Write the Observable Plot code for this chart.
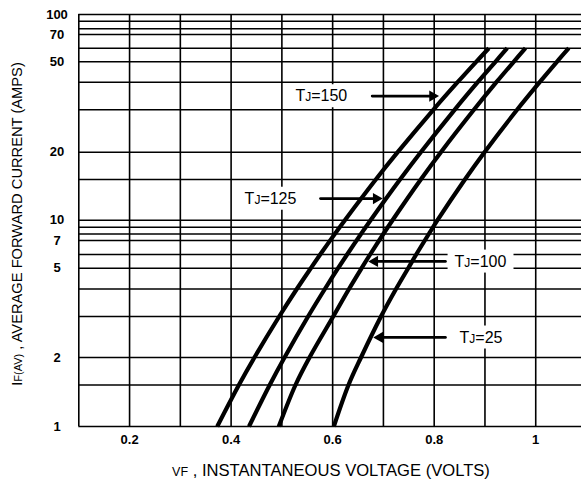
<!DOCTYPE html>
<html>
<head>
<meta charset="utf-8">
<script src="https://cdn.jsdelivr.net/npm/d3@7"></script>
<script src="https://cdn.jsdelivr.net/npm/@observablehq/plot@0.6"></script>
<style>
  html, body { margin: 0; padding: 0; background: white; overflow: hidden; }
</style>
</head>
<body>
<div id="chart"></div>
<script>
// ---- data ----
const voltTicks = [0.2, 0.4, 0.6, 0.8, 1];
const ampTicks = [1, 2, 5, 7, 10, 20, 50, 70, 100];
const voltGrid = [0.1, 0.2, 0.3, 0.4, 0.5, 0.6, 0.7, 0.8, 0.9, 1.0, 1.1];
const ampGrid = [1, 1.5, 2, 3, 4, 5, 6, 7, 8, 9, 10, 15, 20, 30, 40, 50, 60, 70, 80, 90, 100];

const ampsCurve = [1, 1.5, 2, 3, 4, 5, 6, 8, 10, 15, 20, 30, 40, 50, 60];
const volts150 = [0.3726, 0.4153, 0.4459, 0.4947, 0.5294, 0.5570, 0.5755, 0.6042, 0.6241, 0.6850, 0.7281, 0.7982, 0.8461, 0.8827, 0.9076];
const volts125 = [0.4352, 0.4760, 0.5052, 0.5516, 0.5847, 0.6107, 0.6285, 0.6558, 0.6747, 0.7327, 0.7736, 0.8402, 0.8857, 0.9206, 0.9438];
const volts100 = [0.4939, 0.5268, 0.5544, 0.6011, 0.6322, 0.6570, 0.6738, 0.6998, 0.7179, 0.7736, 0.8132, 0.8782, 0.9225, 0.9566, 0.9798];
const volts25  = [0.6023, 0.6312, 0.6558, 0.6952, 0.7248, 0.7488, 0.7646, 0.7894, 0.8065, 0.8605, 0.8991, 0.9633, 1.0078, 1.0417, 1.0651];

const tempLabels = ["150", "125", "100", "25"];
const labelVolt = [0.5777, 0.4776, 0.8912, 0.8922];
const labelAmp = [34.6, 12.4, 5.47, 2.44];
const arrowFromVolt = [0.6779, 0.5761, 0.8221, 0.8221];
const arrowToVolt = [0.8085, 0.6976, 0.6712, 0.6810];

// ---- build tables ----
const seriesVolts = {"150": volts150, "125": volts125, "100": volts100, "25": volts25};
const curves = Object.entries(seriesVolts).flatMap(([t, vs]) =>
  ampsCurve.map((a, i) => ({t, v: vs[i], a})));
const annots = tempLabels.map((t, i) => ({
  label: "TJ=" + t, lv: labelVolt[i], la: labelAmp[i],
  x1: arrowFromVolt[i], x2: arrowToVolt[i], right: arrowToVolt[i] > arrowFromVolt[i]
}));

const FONT = "'Liberation Sans', Arial, Helvetica, sans-serif";

const plot = Plot.plot({
  width: 581,
  height: 483,
  marginLeft: 78.3,
  marginRight: 0,
  marginTop: 14,
  marginBottom: 57,
  style: {fontFamily: FONT, background: "white", color: "black"},
  x: {domain: [0.1, 1.1], range: [78.3, 586], axis: null},
  y: {
    type: "log",
    domain: [1, 1.5, 2, 3, 4, 5, 6, 7, 8, 9, 10, 15, 20, 30, 40, 50, 60, 70, 80, 90, 100],
    range: [426, 384.5, 357, 316, 288.5, 267.7, 254, 240, 233.5, 226.7, 219.7, 179, 151.7, 109.3, 81.7, 61.3, 47.7, 34, 28.3, 20.7, 14],
    axis: null
  },
  marks: [
    Plot.ruleY(ampGrid, {stroke: "black", strokeWidth: 1.6}),
    Plot.ruleX(voltGrid, {stroke: "black", strokeWidth: 1.6}),
    Plot.line(curves, {x: "v", y: "a", z: "t", stroke: "black", strokeWidth: 4.2, curve: "catmull-rom", strokeLinecap: "butt"}),
    Plot.arrow(annots, {x1: "x1", x2: "x2", y1: "la", y2: "la", stroke: "black", strokeWidth: 2.8, headLength: 0, insetEnd: 5}),
    Plot.dot(annots.filter(d => d.right), {x: "x2", y: "la", symbol: "triangle", r: 4.2, fill: "black", stroke: "none", rotate: 90, dx: -6}),
    Plot.dot(annots.filter(d => !d.right), {x: "x2", y: "la", symbol: "triangle", r: 4.2, fill: "black", stroke: "none", rotate: -90, dx: 6}),
    Plot.text(annots, {x: "lv", y: "la", text: "label", fontSize: 16, fill: "black", textAnchor: "middle"}),
    Plot.text(ampTicks, {x: () => 0.1, y: d => d, text: d => String(d), dx: -21.8, textAnchor: "middle", fontSize: 13, fontWeight: "bold", fill: "black"}),
    Plot.text(voltTicks, {x: d => d, y: () => 1, text: d => String(d), dy: 13.5, textAnchor: "middle", fontSize: 13, fontWeight: "bold", fill: "black"})
  ]
});

document.getElementById("chart").appendChild(plot);

const svg = d3.select(plot);

// annotation text (first text mark): small "J", and white background boxes
const annNode = svg.selectAll('g[aria-label="text"]').nodes()[0];
const annG = d3.select(annNode);
annG.selectAll("text").each(function() {
  const s = this.textContent;
  const t = d3.select(this);
  t.text(null);
  t.append("tspan").text("T");
  t.append("tspan").attr("font-size", 12).text("J");
  t.append("tspan").text(s.slice(2));
});
annG.selectAll("text").each(function() {
  const b = this.getBBox();
  const tr = this.getAttribute("transform");
  const r = document.createElementNS("http://www.w3.org/2000/svg", "rect");
  r.setAttribute("x", b.x - 7);
  r.setAttribute("y", b.y - 3);
  r.setAttribute("width", b.width + 14);
  r.setAttribute("height", b.height + 6);
  r.setAttribute("fill", "white");
  if (tr) r.setAttribute("transform", tr);
  annNode.insertBefore(r, annNode.firstChild);
});

// axis titles
const yt = svg.append("text")
  .attr("transform", "translate(17,224) rotate(-90)")
  .attr("text-anchor", "middle")
  .attr("dy", "0.35em")
  .attr("font-family", FONT)
  .attr("font-size", 14.7)
  .attr("fill", "black");
yt.append("tspan").text("I");
yt.append("tspan").attr("font-size", 11).text("F(AV)");
yt.append("tspan").text(" , AVERAGE FORWARD CURRENT (AMPS)");

const xt = svg.append("text")
  .attr("x", 331)
  .attr("y", 470)
  .attr("text-anchor", "middle")
  .attr("dy", "0.35em")
  .attr("font-family", FONT)
  .attr("font-size", 16.6)
  .attr("fill", "black");
xt.append("tspan").attr("font-size", 12.5).text("VF");
xt.append("tspan").text(" , INSTANTANEOUS VOLTAGE (VOLTS)");
</script>
</body>
</html>
